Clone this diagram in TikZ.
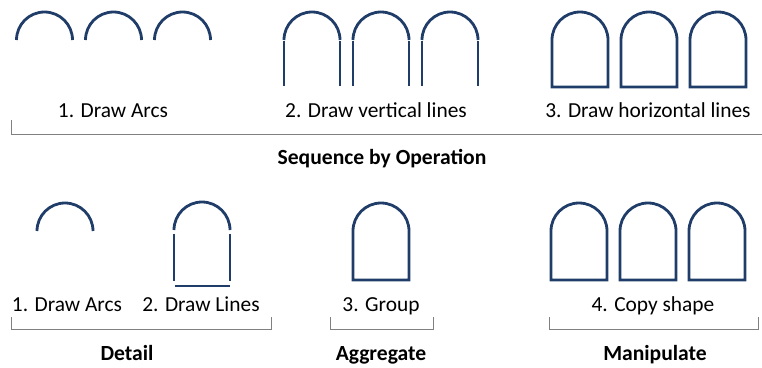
\documentclass[tikz,border=0pt]{standalone}
\usepackage{fontspec}
\setmainfont{Carlito}
\definecolor{archblue}{RGB}{31,61,104}
\definecolor{bracketgray}{RGB}{128,128,128}
\begin{document}
\begin{tikzpicture}[x=1pt,y=1pt,
	arch/.style={draw=archblue,line width=2.8pt},
	bracket/.style={draw=bracketgray,line width=0.9pt},
	steplabel/.style={anchor=base,inner sep=0,font=\fontsize{21.4}{25}\selectfont},
	grouplabel/.style={anchor=base,inner sep=0,font=\fontsize{21.6}{25}\selectfont\bfseries}]
\useasboundingbox (0,0) rectangle (762,-367);
\foreach \cx in {44.5,113.5,182.5}
	\draw[arch] (\cx-28,-40) arc (180:0:28pt);
\foreach \cx in {312,381,450}
	{\draw[arch] (\cx-28,-40) arc (180:0:28pt);
	\draw[arch] (\cx-28,-41) -- (\cx-28,-86);
	\draw[arch] (\cx+28,-41) -- (\cx+28,-86);}
\foreach \cx in {580,649,718}
	\draw[arch] (\cx-28,-87) -- (\cx-28,-40) arc (180:0:28pt) -- (\cx+28,-87) -- cycle;
\node[steplabel] (arcs) at (113,-117) {1. Draw Arcs};
\node[steplabel] (vlines) at (376,-117) {2. Draw vertical lines};
\node[steplabel] (hlines) at (648,-117) {3. Draw horizontal lines};
\draw[bracket] (11,-120) -- (11,-134) -- (762,-134);
\node[grouplabel] (sequence) at (382,-164) {Sequence by Operation};
\draw[arch] (37,-231) arc (180:0:28pt);
\draw[arch] (174,-230) arc (180:0:28pt);
\draw[arch] (174,-234) -- (174,-281);
\draw[arch] (230,-234) -- (230,-281);
\draw[arch] (175,-286) -- (230,-286);
\draw[arch] (353,-280) -- (353,-231) arc (180:0:28pt) -- (409,-280) -- cycle;
\foreach \cx in {579,648,717}
	\draw[arch] (\cx-28,-280) -- (\cx-28,-231) arc (180:0:28pt) -- (\cx+28,-280) -- cycle;
\node[steplabel] (detailarcs) at (67,-311) {1. Draw Arcs};
\node[steplabel] (detaillines) at (201,-311) {2. Draw Lines};
\node[steplabel] (group) at (381,-311) {3. Group};
\node[steplabel] (copy) at (653,-311) {4. Copy shape};
\draw[bracket] (11,-317) -- (11,-329) -- (271,-329) -- (271,-317);
\draw[bracket] (330,-317) -- (330,-329) -- (433,-329) -- (433,-317);
\draw[bracket] (549,-317) -- (549,-329) -- (758,-329) -- (758,-317);
\node[grouplabel] (detail) at (127,-360) {Detail};
\node[grouplabel] (aggregate) at (381,-360) {Aggregate};
\node[grouplabel] (manipulate) at (655,-360) {Manipulate};
\end{tikzpicture}
\end{document}
